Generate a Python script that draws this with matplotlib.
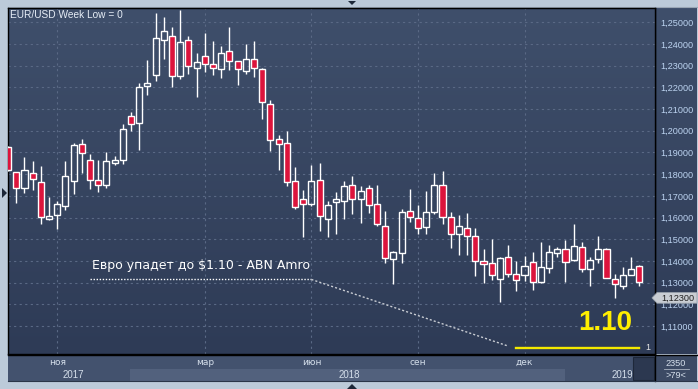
import numpy as np
import matplotlib
matplotlib.use('Agg')
import matplotlib.pyplot as plt
from matplotlib.patches import Rectangle, Polygon
from matplotlib.colors import LinearSegmentedColormap
from matplotlib.transforms import blended_transform_factory
from matplotlib.lines import Line2D

plt.rcParams['font.family'] = ['DejaVu Sans']

W, H, DPI = 698, 389, 100

# ---- weekly EUR/USD candles ----
opens = [1.1925, 1.1809, 1.1738, 1.1804, 1.1763, 1.1592, 1.1611, 1.1655, 1.1767, 1.1938,
         1.1867, 1.1772, 1.1749, 1.1850, 1.1864, 1.2067, 1.2035, 1.2205, 1.2259, 1.2417,
         1.2435, 1.2251, 1.2417, 1.2288, 1.2346, 1.2309, 1.2283, 1.2366, 1.2320, 1.2274,
         1.2329, 1.2283, 1.2122, 1.1961, 1.1945, 1.1767, 1.1684, 1.1661, 1.1772, 1.1592,
         1.1671, 1.1675, 1.1749, 1.1684, 1.1735, 1.1661, 1.1560, 1.1408, 1.1435, 1.1629,
         1.1597, 1.1555, 1.1624, 1.1749, 1.1601, 1.1523, 1.1551, 1.1514, 1.1399, 1.1389,
         1.1316, 1.1417, 1.1339, 1.1334, 1.1394, 1.1302, 1.1366, 1.1435, 1.1454, 1.1403,
         1.1463, 1.1362, 1.1408, 1.1454, 1.1318, 1.1286, 1.1334, 1.1376]
highs = [1.1930, 1.1812, 1.1878, 1.1861, 1.1838, 1.1695, 1.1677, 1.1861, 1.1944, 1.1962,
         1.1892, 1.1864, 1.1902, 1.1882, 1.2030, 1.2088, 1.2219, 1.2326, 1.2543, 1.2524,
         1.2478, 1.2557, 1.2435, 1.2357, 1.2451, 1.2414, 1.2389, 1.2478, 1.2322, 1.2400,
         1.2414, 1.2291, 1.2142, 1.1981, 1.1999, 1.1832, 1.1726, 1.1841, 1.1850, 1.1675,
         1.1717, 1.1767, 1.1790, 1.1744, 1.1749, 1.1749, 1.1629, 1.1447, 1.1638, 1.1730,
         1.1657, 1.1721, 1.1804, 1.1813, 1.1624, 1.1611, 1.1620, 1.1551, 1.1454, 1.1500,
         1.1417, 1.1472, 1.1400, 1.1422, 1.1440, 1.1486, 1.1472, 1.1463, 1.1495, 1.1569,
         1.1486, 1.1417, 1.1514, 1.1459, 1.1339, 1.1371, 1.1417, 1.1380]
lows = [1.1815, 1.1666, 1.1715, 1.1727, 1.1572, 1.1590, 1.1549, 1.1636, 1.1709, 1.1807,
        1.1730, 1.1717, 1.1738, 1.1841, 1.1846, 1.2000, 1.1913, 1.2165, 1.2230, 1.2331,
        1.2203, 1.2239, 1.2260, 1.2154, 1.2270, 1.2259, 1.2242, 1.2280, 1.2212, 1.2260,
        1.2247, 1.2053, 1.1908, 1.1819, 1.1747, 1.1641, 1.1509, 1.1652, 1.1540, 1.1509,
        1.1523, 1.1592, 1.1615, 1.1574, 1.1620, 1.1560, 1.1389, 1.1295, 1.1392, 1.1578,
        1.1526, 1.1523, 1.1615, 1.1569, 1.1461, 1.1429, 1.1429, 1.1332, 1.1300, 1.1314,
        1.1212, 1.1328, 1.1263, 1.1309, 1.1268, 1.1300, 1.1343, 1.1417, 1.1305, 1.1400,
        1.1351, 1.1286, 1.1389, 1.1320, 1.1231, 1.1272, 1.1334, 1.1286]
closes = [1.1820, 1.1735, 1.1818, 1.1776, 1.1604, 1.1606, 1.1664, 1.1790, 1.1933, 1.1896,
          1.1772, 1.1749, 1.1859, 1.1867, 1.2007, 1.2031, 1.2200, 1.2219, 1.2426, 1.2459,
          1.2251, 1.2408, 1.2299, 1.2318, 1.2306, 1.2288, 1.2357, 1.2322, 1.2283, 1.2329,
          1.2288, 1.2131, 1.1959, 1.1941, 1.1765, 1.1647, 1.1661, 1.1767, 1.1606, 1.1657,
          1.1684, 1.1744, 1.1684, 1.1721, 1.1657, 1.1569, 1.1412, 1.1440, 1.1624, 1.1601,
          1.1551, 1.1624, 1.1749, 1.1601, 1.1523, 1.1560, 1.1514, 1.1399, 1.1385, 1.1334,
          1.1412, 1.1339, 1.1314, 1.1376, 1.1302, 1.1371, 1.1440, 1.1454, 1.1394, 1.1468,
          1.1362, 1.1403, 1.1454, 1.1320, 1.1293, 1.1334, 1.1362, 1.1302]

month_labels = ['ноя', 'мар', 'июн', 'сен', 'дек']
month_idx = [6, 24, 37, 50, 63]
year_labels = ['2017', '2018', '2019']
year_pos = [8.0, 41.6, 74.9]
year_band = [14.93, 67.93]
price_ticks = [1.11, 1.12, 1.13, 1.14, 1.15, 1.16, 1.17, 1.18, 1.19, 1.20,
               1.21, 1.22, 1.23, 1.24, 1.25]
title_text = 'EUR/USD Week Low = 0'
headline = 'Евро упадет до $1.10 - ABN Amro'
trend_x = [10.0, 37.0, 61.0]
trend_y = [1.1315, 1.1315, 1.1008]
target_price = 1.10
target_x = [62.0, 77.0]
target_label = '1.10'
last_tag = 1.123

# ---- layout helpers ----
def px_rect(x0, y0, x1, y1):
    return [x0 / W, 1 - y1 / H, (x1 - x0) / W, (y1 - y0) / H]

def fx(x):
    return x / W

def fy(y):
    return 1 - y / H

fig = plt.figure(figsize=(W / DPI, H / DPI), dpi=DPI, facecolor='#bccad9')

grad_cmap = LinearSegmentedColormap.from_list('bg', ['#3f4f6b', '#2e3b56'])
grad = np.linspace(0, 1, 256).reshape(-1, 1)

# right price-scale panel
axR = fig.add_axes(px_rect(655, 8, 697, 354))
axR.imshow(grad, cmap=grad_cmap, aspect='auto', extent=[0, 1, 0, 1])
axR.set_xlim(0, 1); axR.set_ylim(0, 1); axR.axis('off')
axR.set_zorder(0)

# time axis panel
axT = fig.add_axes(px_rect(8, 355, 655, 381))
axT.set_facecolor('#43526e')
axT.set_zorder(0)

# main chart
ax = fig.add_axes(px_rect(8, 8, 655, 354))
ax.set_zorder(2)
ax.imshow(grad, cmap=grad_cmap, aspect='auto', extent=[0, 1, 0, 1],
          transform=ax.transAxes, zorder=-10)

xmin, xmax = -0.01, 78.92
ymin, ymax = 1.09714, 1.25659

for p in price_ticks:
    ax.axhline(p, color='#5a6985', lw=0.8, dashes=(2, 3), zorder=1)
for m in month_idx:
    ax.axvline(m, color='#5a6985', lw=0.8, dashes=(2, 3), zorder=1)

x = np.arange(len(opens))
o = np.array(opens); c = np.array(closes); h = np.array(highs); l = np.array(lows)
up = c >= o
top = np.maximum(o, c); bot = np.minimum(o, c)
ax.vlines(x, top, h, color='white', lw=1.0, zorder=3)
ax.vlines(x, l, bot, color='white', lw=1.0, zorder=3)
ax.bar(x[up], (top - bot)[up], bottom=bot[up], width=0.74, facecolor='none',
       edgecolor='white', lw=1.0, zorder=4)
ax.bar(x[~up], (top - bot)[~up], bottom=bot[~up], width=0.74, facecolor='#dc143c',
       edgecolor='white', lw=1.0, zorder=4)

# annotation: headline + dotted trend to target
ax.plot(trend_x[:2], trend_y[:2], color='white', lw=1.0, dashes=(1, 1.2), zorder=5)
ax.plot(trend_x[1:], trend_y[1:], color='#c9cdd4', lw=1.0, dashes=(1.5, 1.5), zorder=5)
ax.text(trend_x[0] + 0.2, trend_y[0] + 0.0035, headline, color='white', fontsize=9,
        ha='left', va='bottom', zorder=6)
ax.plot(target_x, [target_price] * 2, color='#f5ea00', lw=1.7, zorder=5)
ax.text(target_x[1] + 1.1, target_price, '1', color='#e6e6e6', fontsize=6.5,
        ha='center', va='center', family='Liberation Sans', zorder=6)
ax.text(72.8, 1.1114, target_label, color='#ffee00', fontsize=20, fontweight='bold',
        family='Liberation Sans', ha='center', va='center', zorder=6)

ax.set_xlim(xmin, xmax)
ax.set_ylim(ymin, ymax)
ax.yaxis.tick_right()
ax.set_yticks(price_ticks)
ax.set_yticklabels([f'{p:.5f}'.replace('.', ',') for p in price_ticks],
                   family='Liberation Sans')
ax.tick_params(axis='y', length=0, pad=4, labelcolor='#bcd3f0', labelsize=6.6)
ax.set_xticks([])
for s in ax.spines.values():
    s.set_color('black'); s.set_linewidth(1.0)

# last price tag
bt = blended_transform_factory(fig.transFigure, ax.transData)
hh = 5.3 / 2170
tag = Polygon([[fx(652), last_tag], [fx(657), last_tag + hh], [fx(697), last_tag + hh],
               [fx(697), last_tag - hh], [fx(657), last_tag - hh]], closed=True,
              transform=bt, facecolor='#c9cdd3', edgecolor='#9aa2ad', lw=0.6,
              clip_on=False, zorder=10)
fig.add_artist(tag)
fig.text(fx(677), 0, '', transform=bt)
t = matplotlib.text.Text(fx(677.5), last_tag, f'{last_tag:.5f}'.replace('.', ','),
                         transform=bt, ha='center', va='center', fontsize=6.6,
                         color='#202020', family='Liberation Sans', zorder=11)
fig.add_artist(t)

# time axis content
axT.set_xlim(xmin, xmax); axT.set_ylim(0, 1)
axT.axvspan(year_band[0], year_band[1], ymin=0, ymax=0.48, color='#52617d', lw=0)
for lab, m in zip(month_labels, month_idx):
    axT.text(m, 0.72, lab, ha='center', va='center', fontsize=6.5, color='#d4deea')
for lab, yp in zip(year_labels, year_pos):
    axT.text(yp, 0.25, lab, ha='center', va='center', fontsize=7, color='#d4deea',
             family='Liberation Sans')
axT.set_xticks([]); axT.set_yticks([])
for s in axT.spines.values():
    s.set_visible(False)
fig.add_artist(Rectangle((fx(633), fy(380)), (654 - 633) / W, (380 - 357) / H,
                         transform=fig.transFigure, facecolor='#2c3850',
                         edgecolor='#1e283a', lw=0.8))

# bottom-right corner
fig.add_artist(Rectangle((fx(656), fy(381)), (697 - 656) / W, (381 - 355) / H,
                         transform=fig.transFigure, facecolor='#3c4a64', lw=0))
fig.text(fx(676), fy(363), '2350', ha='center', va='center', fontsize=6.6,
         color='#d4deea', family='Liberation Sans')
fig.add_artist(Line2D([fx(664), fx(689)], [fy(369), fy(369)], color='#aab4c2', lw=0.6))
fig.text(fx(676), fy(375), '>79<', ha='center', va='center', fontsize=6.6,
         color='#d4deea', family='Liberation Sans')

# frame lines
fig.add_artist(Line2D([fx(8), fx(697)], [fy(354.5), fy(354.5)], color='black', lw=1.0))
fig.add_artist(Line2D([fx(655), fx(655)], [fy(8), fy(381)], color='black', lw=1.0))
fig.add_artist(Line2D([fx(8), fx(697)], [fy(381), fy(381)], color='#2a3548', lw=0.8))
fig.add_artist(Line2D([fx(8), fx(697)], [fy(6.5), fy(6.5)], color='#9aa6b5', lw=0.8))

# small navigation triangles
for pts in ([(348, 1), (356, 1), (352, 5)], [(347, 389), (357, 389), (352, 384)],
            [(2, 188), (2, 198), (7, 193)]):
    fig.add_artist(Polygon([[fx(px), fy(py)] for px, py in pts], closed=True,
                           transform=fig.transFigure, facecolor='#1c2738', lw=0))

# title
fig.text(fx(10), fy(15), title_text, ha='left', va='center', fontsize=7.3,
         color='#e6edf6', family='Liberation Sans')

fig.savefig('out.png', dpi=DPI, facecolor=fig.get_facecolor())
